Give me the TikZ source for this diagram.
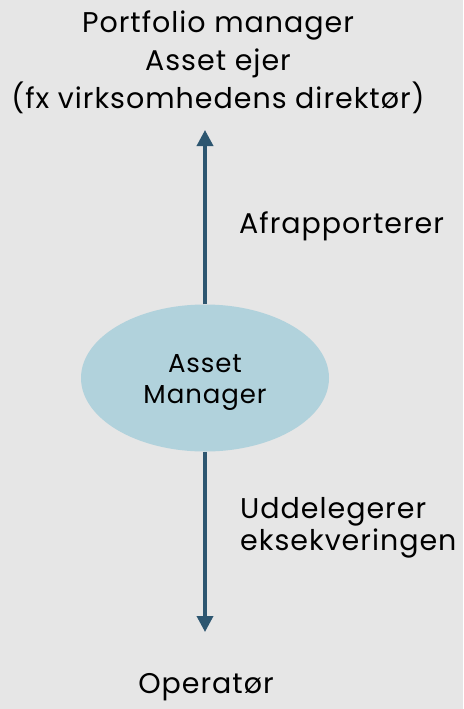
\documentclass[tikz,border=0pt]{standalone}
\usepackage{fontspec}
\setmainfont{Poppins}[LetterSpace=3.5]
\usetikzlibrary{shapes.geometric,arrows.meta}
\definecolor{bgc}{HTML}{E6E6E6}
\definecolor{ellc}{HTML}{B1D2DC}
\definecolor{arrc}{HTML}{2D5670}
\tikzset{
  lbl/.style={font=\fontsize{28.5}{33}\selectfont, inner sep=0pt, text=black},
  conn/.style={draw=arrc, line width=3.5pt, -{Triangle[width=16pt,length=16pt]}},
}
\begin{document}
\begin{tikzpicture}[x=1pt,y=-1pt]
\fill[bgc] (0,0) rectangle (463,709);
\useasboundingbox (0,0) rectangle (463,709);
\node[lbl, anchor=base, align=center, font=\fontsize{28.5}{38}\selectfont] (top) at (218,108) {Portfolio manager\\Asset ejer\\(fx virksomhedens direktør)};
\node[ellipse, fill=ellc, minimum width=248pt, minimum height=147pt, inner sep=0pt] (am) at (205,378) {};
\node[lbl, anchor=base, align=center, font=\fontsize{26}{31}\selectfont] (amt) at (205,403) {Asset\\Manager};
\coordinate (toptip) at (205,130);
\coordinate (bottip) at (205,632);
\draw[conn] (am.north) -- (toptip);
\draw[conn] (am.south) -- (bottip);
\node[lbl, anchor=base west] (rep) at (239,233) {Afrapporterer};
\node[lbl, anchor=base west, align=left, font=\fontsize{28.5}{32}\selectfont] (del) at (240,550) {Uddelegerer\\eksekveringen};
\node[lbl, anchor=base] (op) at (206,693) {Operatør};
\end{tikzpicture}
\end{document}
